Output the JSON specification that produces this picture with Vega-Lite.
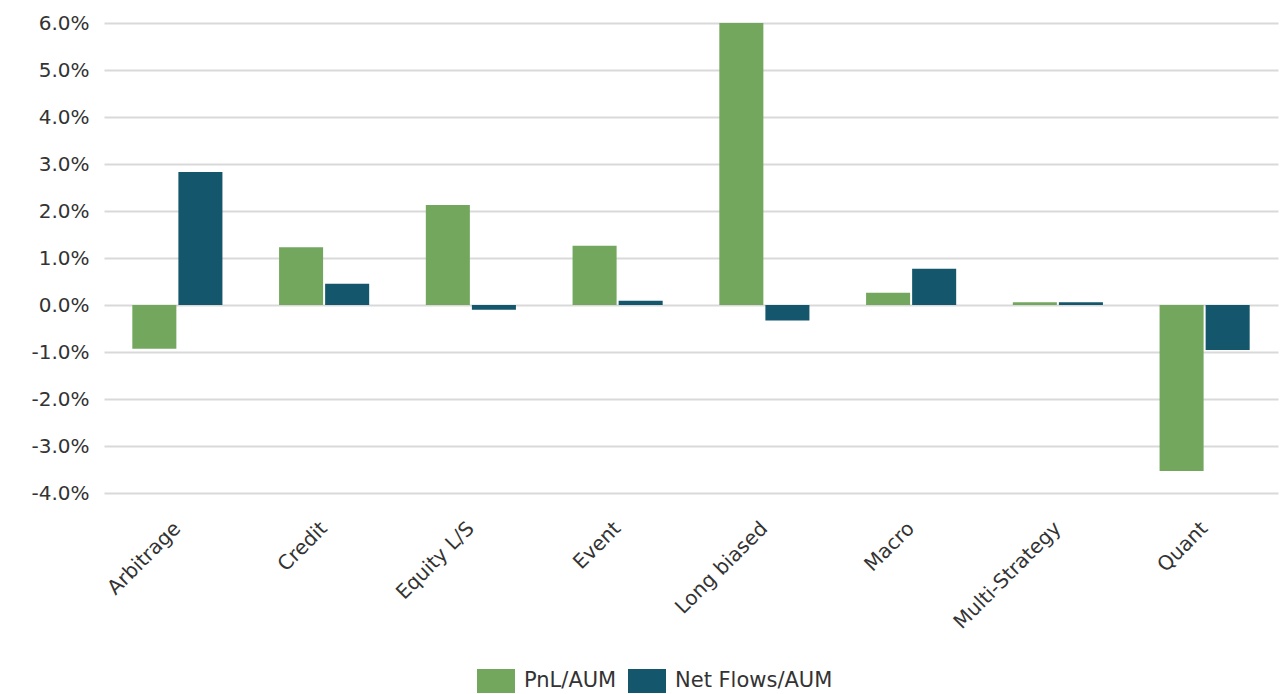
{
  "$schema": "https://vega.github.io/schema/vega-lite/v6.json",
  "width": 1174,
  "height": 470,
  "autosize": {"type": "none"},
  "padding": {"left": 104, "top": 23, "right": 10, "bottom": 201},
  "background": "white",
  "config": {
    "view": {"stroke": null},
    "font": "DejaVu Sans",
    "axis": {"labelFont": "DejaVu Sans", "labelColor": "#333333", "labelFontSize": 20},
    "legend": {"labelFont": "DejaVu Sans", "labelColor": "#333333", "labelFontSize": 21}
  },
  "data": {
    "values": [
      {"strategy": "Arbitrage", "series": "PnL/AUM", "value": -0.0093},
      {"strategy": "Arbitrage", "series": "Net Flows/AUM", "value": 0.0283},
      {"strategy": "Credit", "series": "PnL/AUM", "value": 0.0123},
      {"strategy": "Credit", "series": "Net Flows/AUM", "value": 0.0045},
      {"strategy": "Equity L/S", "series": "PnL/AUM", "value": 0.0213},
      {"strategy": "Equity L/S", "series": "Net Flows/AUM", "value": -0.001},
      {"strategy": "Event", "series": "PnL/AUM", "value": 0.0126},
      {"strategy": "Event", "series": "Net Flows/AUM", "value": 0.0009},
      {"strategy": "Long biased", "series": "PnL/AUM", "value": 0.06},
      {"strategy": "Long biased", "series": "Net Flows/AUM", "value": -0.0033},
      {"strategy": "Macro", "series": "PnL/AUM", "value": 0.0026},
      {"strategy": "Macro", "series": "Net Flows/AUM", "value": 0.0077},
      {"strategy": "Multi-Strategy", "series": "PnL/AUM", "value": 0.0006},
      {"strategy": "Multi-Strategy", "series": "Net Flows/AUM", "value": 0.0006},
      {"strategy": "Quant", "series": "PnL/AUM", "value": -0.0353},
      {"strategy": "Quant", "series": "Net Flows/AUM", "value": -0.0096}
    ]
  },
  "mark": {"type": "bar"},
  "encoding": {
    "x": {
      "field": "strategy",
      "type": "nominal",
      "sort": null,
      "scale": {"paddingInner": 0.386, "paddingOuter": 0.193},
      "axis": {
        "title": null,
        "labelAngle": -45,
        "labelAlign": "right",
        "labelBaseline": "middle",
        "labelPadding": 32,
        "domain": false,
        "ticks": false,
        "grid": false
      }
    },
    "xOffset": {
      "field": "series",
      "type": "nominal",
      "sort": ["PnL/AUM", "Net Flows/AUM"],
      "scale": {"paddingInner": 0.044, "paddingOuter": 0}
    },
    "y": {
      "field": "value",
      "type": "quantitative",
      "scale": {"domain": [-0.04, 0.06], "nice": false, "zero": false},
      "axis": {
        "title": null,
        "format": ".1%",
        "labelExpr": "replace(datum.label, '\u2212', '-')",
        "values": [-0.04, -0.03, -0.02, -0.01, 0, 0.01, 0.02, 0.03, 0.04, 0.05, 0.06],
        "domain": false,
        "ticks": false,
        "labelPadding": 15,
        "gridColor": "#d9d9d9",
        "gridWidth": 2
      }
    },
    "color": {
      "field": "series",
      "type": "nominal",
      "sort": ["PnL/AUM", "Net Flows/AUM"],
      "scale": {"domain": ["PnL/AUM", "Net Flows/AUM"], "range": ["#73A75E", "#14566B"]},
      "legend": {
        "title": null,
        "orient": "none",
        "direction": "horizontal",
        "legendX": 373,
        "legendY": 639,
        "symbolType": "M-1,-0.63H1V0.63H-1Z",
        "symbolSize": 1444,
        "symbolOpacity": 1,
        "symbolStrokeWidth": 0,
        "labelOffset": 9,
        "columnPadding": 11,
        "labelLimit": 300
      }
    }
  }
}
